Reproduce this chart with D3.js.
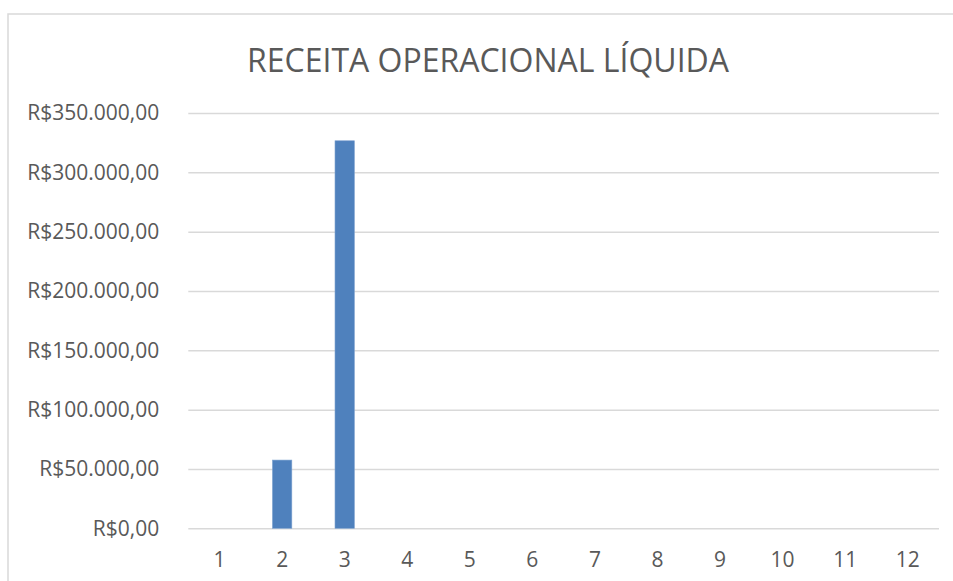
<!DOCTYPE html>
<html>
<head>
<meta charset="utf-8">
<script src="https://cdn.jsdelivr.net/npm/d3@7"></script>
<style>
  body { margin: 0; background: #fff; }
  svg { display: block; }
</style>
</head>
<body>
<div id="chart"></div>
<script>
// chart data
const title = "RECEITA OPERACIONAL LÍQUIDA";
const categories = ["1", "2", "3", "4", "5", "6", "7", "8", "9", "10", "11", "12"];
const values = [0, 57500, 326600, 0, 0, 0, 0, 0, 0, 0, 0, 0];
const yTicks = [0, 50000, 100000, 150000, 200000, 250000, 300000, 350000];

const widthValue = 953;
const heightValue = 581;
const margin = { top: 113, left: 188.3, bottom: 52.7, right: 14 };
const width = widthValue - margin.left - margin.right;
const height = heightValue - margin.top - margin.bottom;

const font = "'Open Sans', sans-serif";
const textColor = "#595959";
const gridColor = "#d9d9d9";

const brl = d3.formatLocale({
  decimal: ",",
  thousands: ".",
  grouping: [3],
  currency: ["R$", ""]
}).format("$,.2f");

const svg = d3.select("#chart").append("svg")
  .attr("width", widthValue)
  .attr("height", heightValue);

// chart area border (clipped at right/bottom like the reference)
svg.append("rect")
  .attr("x", 8)
  .attr("y", 14)
  .attr("width", 960)
  .attr("height", 600)
  .attr("fill", "none")
  .attr("stroke", gridColor)
  .attr("stroke-width", 1.5);

svg.append("text")
  .attr("x", 488)
  .attr("y", 71.5)
  .attr("text-anchor", "middle")
  .attr("fill", textColor)
  .style("font-family", font)
  .style("font-size", "32px")
  .text(title);

const g = svg.append("g").attr("transform", `translate(${margin.left},${margin.top})`);

const x = d3.scaleBand()
  .domain(categories)
  .range([0, width])
  .paddingInner(0.69)
  .paddingOuter(0.345);

const y = d3.scaleLinear()
  .domain([0, 350000])
  .range([height, 0]);

// gridlines + y labels
const yAxis = g.append("g")
  .call(d3.axisLeft(y).tickValues(yTicks).tickSize(-width).tickPadding(29).tickFormat(brl));
yAxis.select(".domain").remove();
yAxis.selectAll(".tick line").attr("stroke", gridColor).attr("stroke-width", 1.5);
yAxis.selectAll(".tick text")
  .attr("fill", textColor)
  .style("font-family", font)
  .style("font-size", "21px");

// bars
g.selectAll("rect.bar")
  .data(values)
  .enter()
  .append("rect")
  .attr("class", "bar")
  .attr("x", (d, i) => x(categories[i]))
  .attr("y", (d) => y(d))
  .attr("width", x.bandwidth())
  .attr("height", (d) => height - y(d))
  .attr("fill", "#4f81bd")
  .attr("stroke", "#7fa3d0")
  .attr("stroke-width", 0.6);

// x labels
const xAxis = g.append("g")
  .attr("transform", `translate(0,${height})`)
  .call(d3.axisBottom(x).tickSize(0).tickPadding(24));
xAxis.select(".domain").remove();
xAxis.selectAll(".tick text")
  .attr("fill", textColor)
  .style("font-family", font)
  .style("font-size", "21px");
</script>
</body>
</html>
